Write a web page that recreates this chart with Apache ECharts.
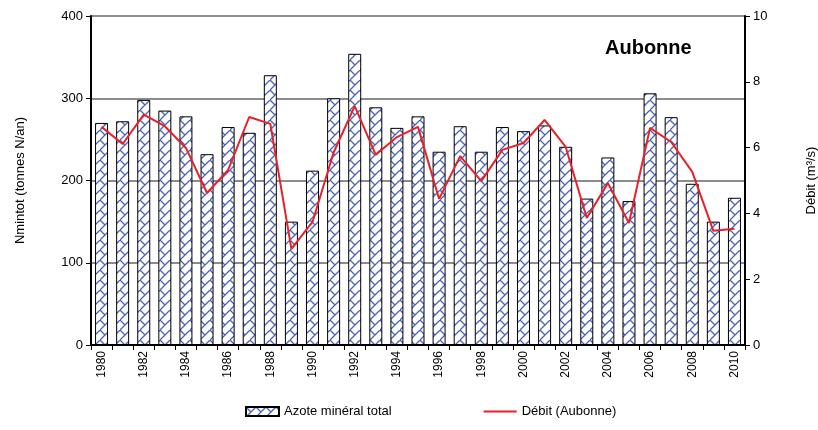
<!DOCTYPE html>
<html>
<head>
<meta charset="utf-8">
<script src="https://cdn.jsdelivr.net/npm/echarts@6/dist/echarts.min.js"></script>
<style>
  html, body { margin: 0; padding: 0; background: #fff; }
  #chart { width: 818px; height: 430px; }
</style>
</head>
<body>
<div id="chart"></div>
<script>
// années
const years = ['1980','1981','1982','1983','1984','1985','1986','1987','1988','1989',
  '1990','1991','1992','1993','1994','1995','1996','1997','1998','1999',
  '2000','2001','2002','2003','2004','2005','2006','2007','2008','2009','2010']
// Azote minéral total (tonnes N/an)
const azote = [270, 272, 298, 285, 278, 232, 265, 258, 328, 150,
  212, 300, 354, 289, 264, 278, 235, 266, 235, 265,
  260, 267, 241, 178, 228, 175, 306, 277, 196, 150, 179]
// Débit Aubonne (m3/s)
const debit = [6.63, 6.11, 7.0, 6.65, 5.99, 4.62, 5.32, 6.93, 6.72, 2.92,
  3.74, 5.85, 7.26, 5.78, 6.32, 6.63, 4.44, 5.74, 4.98, 5.93,
  6.14, 6.84, 6.02, 3.86, 4.92, 3.71, 6.6, 6.17, 5.26, 3.47, 3.53]

// motif hachuré des barres
function makePattern() {
  const c = document.createElement('canvas')
  c.width = 10
  c.height = 10
  const ctx = c.getContext('2d')
  ctx.fillStyle = '#ffffff'
  ctx.fillRect(0, 0, 10, 10)
  ctx.strokeStyle = '#4a64b8'
  ctx.lineWidth = 1.3
  ctx.beginPath()
  ctx.moveTo(0, 10); ctx.lineTo(10, 0)
  ctx.moveTo(0, 0); ctx.lineTo(5, 5)
  ctx.stroke()
  return c
}
const pattern = { image: makePattern(), repeat: 'repeat' }

const font = 'Liberation Sans, Arial, sans-serif'
const chart = echarts.init(document.getElementById('chart'))
chart.setOption({
  animation: false,
  textStyle: { fontFamily: font },
  title: {
    text: 'Aubonne',
    left: 600,
    top: 33,
    textStyle: { fontFamily: font, fontSize: 20, fontWeight: 'bold', color: '#000' }
  },
  grid: { left: 91, right: 73, top: 16, bottom: 85, outerBoundsMode: 'none' },
  legend: {
    bottom: 7,
    left: 240,
    itemGap: 92,
    itemWidth: 33,
    itemHeight: 9,
    textStyle: { fontFamily: font, fontSize: 13, color: '#000' },
    data: [
      { name: 'Azote minéral total', icon: 'rect' },
      { name: 'Débit (Aubonne)', icon: 'path://M0,0 L30,0 L30,2 L0,2 Z' }
    ]
  },
  xAxis: {
    type: 'category',
    data: years,
    axisLine: { lineStyle: { color: '#000', width: 2 } },
    axisTick: { show: true, alignWithLabel: false, interval: 0, length: 5, lineStyle: { color: '#000' } },
    axisLabel: { interval: 1, rotate: 90, color: '#000', fontSize: 12, fontFamily: font, margin: 6 }
  },
  yAxis: [
    {
      type: 'value',
      min: 0,
      max: 400,
      interval: 100,
      name: 'Nmintot (tonnes N/an)',
      nameLocation: 'middle',
      nameRotate: 90,
      nameGap: 64,
      nameTextStyle: { fontFamily: font, fontSize: 13, color: '#000' },
      axisLine: { show: true, lineStyle: { color: '#000', width: 2 } },
      axisTick: { show: true, length: 5, lineStyle: { color: '#000' } },
      axisLabel: { color: '#000', fontSize: 13, fontFamily: font },
      splitLine: { show: true, lineStyle: { color: '#666', width: 1.5 } }
    },
    {
      type: 'value',
      min: 0,
      max: 10,
      interval: 2,
      name: 'Débit (m³/s)',
      nameLocation: 'middle',
      nameRotate: 90,
      nameGap: 60,
      nameTextStyle: { fontFamily: font, fontSize: 13, color: '#000' },
      axisLine: { show: true, lineStyle: { color: '#000', width: 2 } },
      axisTick: { show: true, length: 5, lineStyle: { color: '#000' } },
      axisLabel: { color: '#000', fontSize: 13, fontFamily: font },
      splitLine: { show: false }
    }
  ],
  series: [
    {
      name: 'Azote minéral total',
      type: 'bar',
      data: azote,
      barWidth: 13,
      itemStyle: { color: pattern, borderColor: '#000', borderWidth: 1 }
    },
    {
      name: 'Débit (Aubonne)',
      type: 'line',
      yAxisIndex: 1,
      data: debit,
      symbol: 'none',
      lineStyle: { color: '#e8202a', width: 2 },
      itemStyle: { color: '#e8202a' }
    }
  ]
})
</script>
</body>
</html>
